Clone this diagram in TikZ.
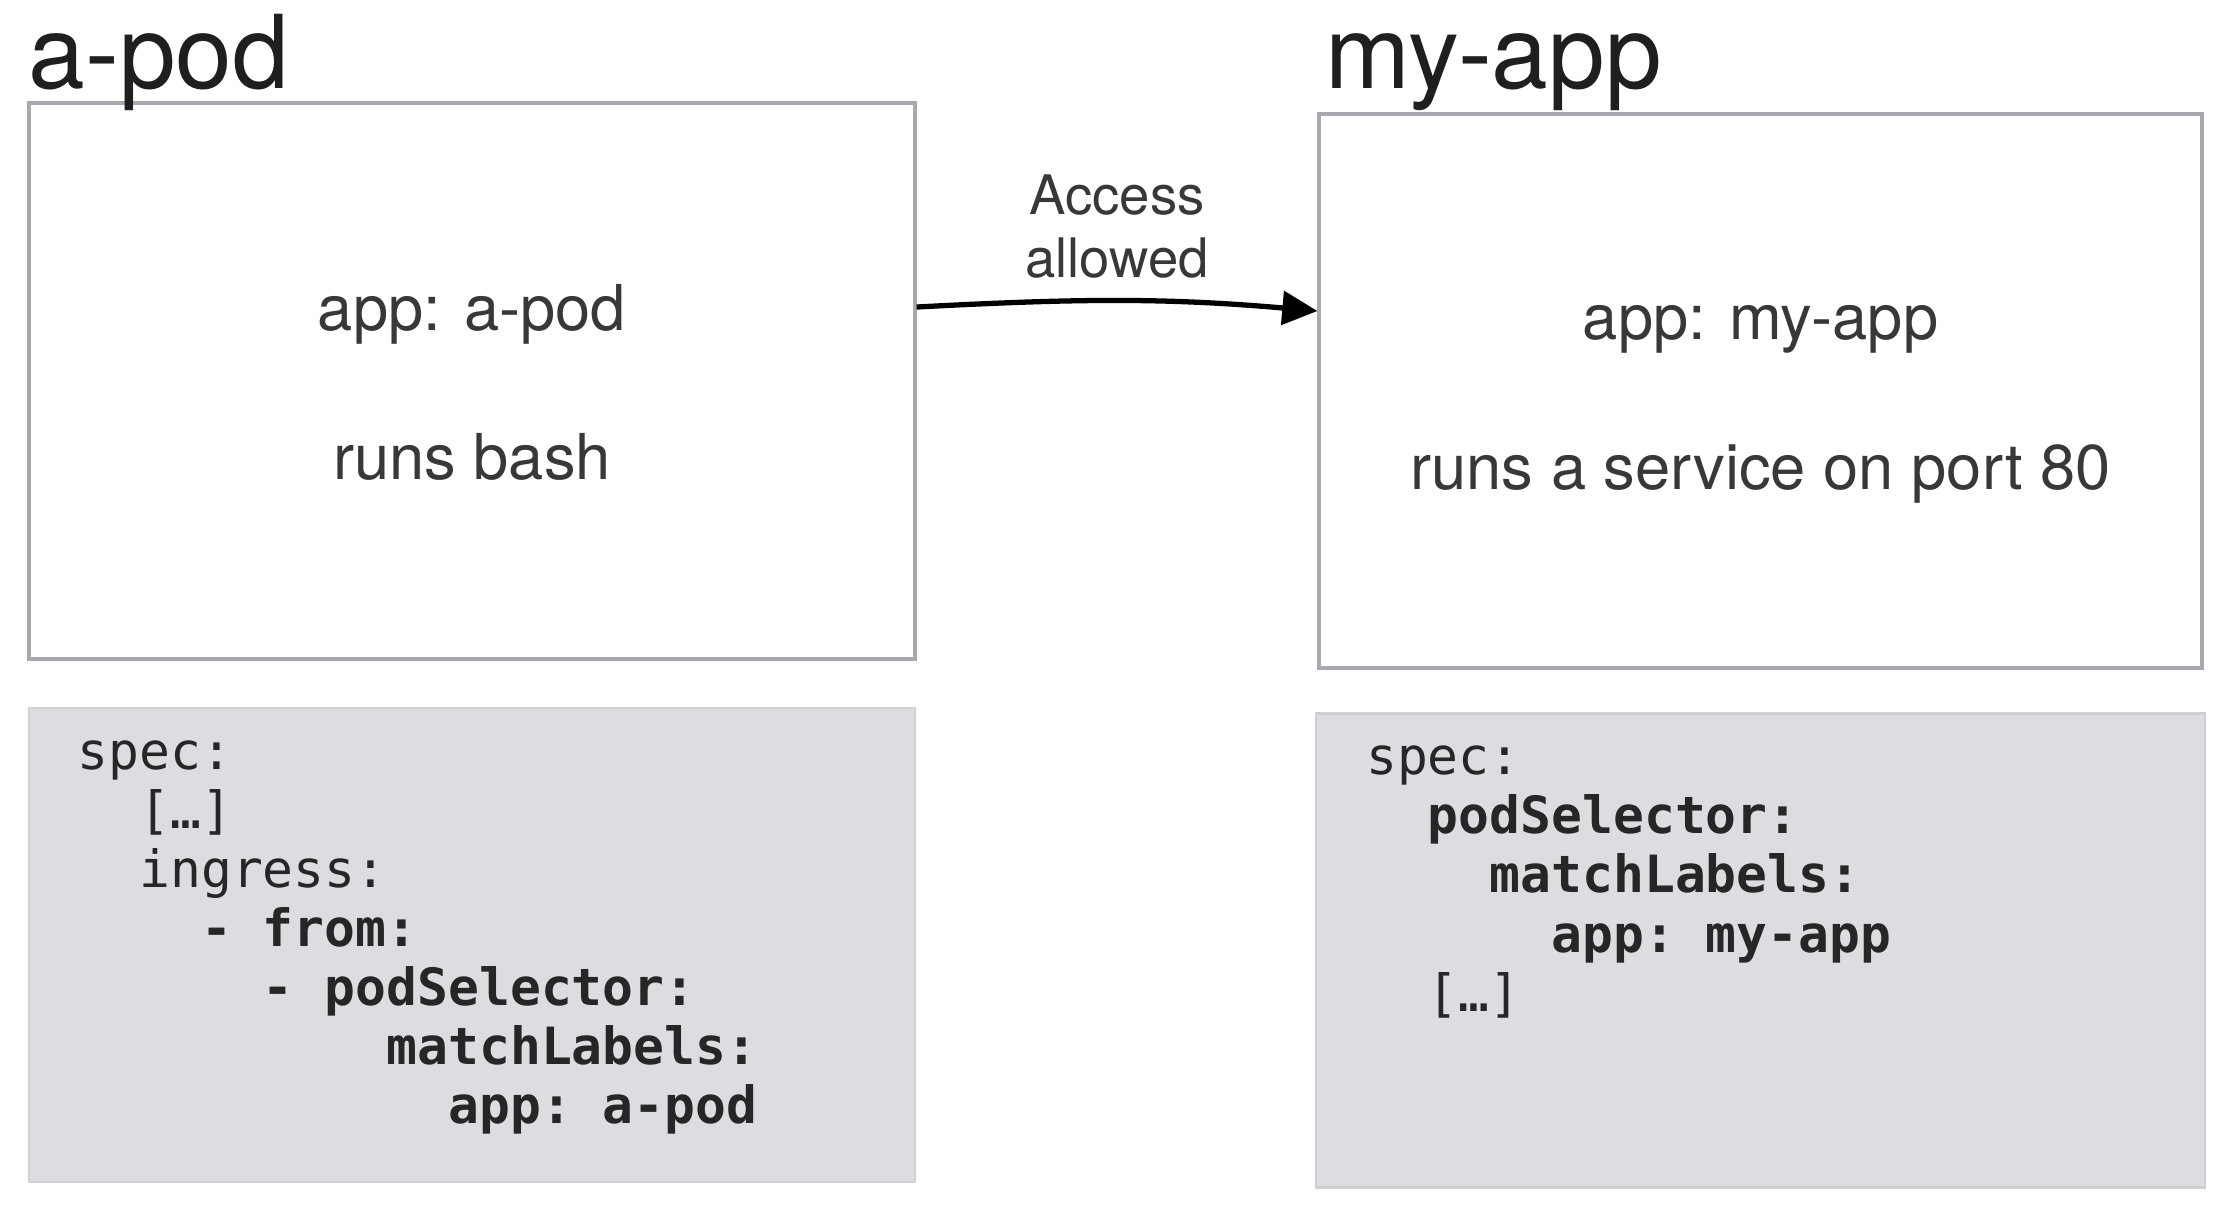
\documentclass[tikz,border=0pt]{standalone}
\usepackage{fontspec}
\setmainfont{TeX Gyre Heros}
\setmonofont{DejaVu Sans Mono}
\usetikzlibrary{arrows.meta,positioning}
\definecolor{BoxEdge}{RGB}{168,168,176}
\definecolor{YamlFill}{RGB}{221,221,225}
\definecolor{YamlEdge}{RGB}{208,208,212}
\definecolor{TextGray}{RGB}{56,56,56}
\newcommand{\codeind}[1]{\hspace*{#1\dimexpr0.602em\relax}}

\tikzset{
  podbox/.style={draw=BoxEdge, line width=0.9pt, minimum width=8.86cm, minimum height=5.56cm, inner sep=0},
  yamlbox/.style={draw=YamlEdge, fill=YamlFill, line width=0.6pt, minimum width=8.86cm, minimum height=4.74cm, inner sep=0},
  podtitle/.style={font=\fontsize{29}{34}\selectfont, text=black!88, anchor=base west, inner sep=0},
  podtext/.style={font=\fontsize{18}{22}\selectfont, text=TextGray, anchor=base, inner sep=0},
  yaml/.style={font=\fontsize{14.6}{16.8}\selectfont\ttfamily, align=left, anchor=north west, inner sep=0, text=black!85},
  arrowline/.style={-{Triangle[length=10pt,width=9.5pt]}, line width=1.5pt}
}

\begin{document}
\begin{tikzpicture}
  % Canvas
  \fill[white] (0,0) rectangle (22.38,-12.2);

  % Pods
  \node[podbox] (apodbox) at (4.72,-3.81) {};
  \node[podbox, minimum width=8.83cm, minimum height=5.54cm] (myappbox) at (17.605,-3.91) {};
  \node[podtitle] (apodtitle) at (0.28,-0.88) {a-pod};
  \node[podtitle] (myapptitle) at (13.25,-0.885) {my-app};

  \node[podtext] (apodlabel) at ([yshift=0.51cm]apodbox.center) {app: a-pod};
  \node[podtext] (apodrun) at ([yshift=-0.986cm]apodbox.center) {runs bash};
  \node[podtext] (myapplabel) at ([yshift=0.513cm]myappbox.center) {app: my-app};
  \node[podtext] (myapprun) at ([yshift=-0.986cm]myappbox.center) {runs a service on port 80};

  % Access
  \draw[arrowline] ([yshift=0.74cm]apodbox.east) to[out=3, in=175]
    node[midway, above=0.2cm, font=\fontsize{15.5}{17.9}\selectfont, text=TextGray, align=center, inner sep=0] (access) {Access\\allowed}
    ([yshift=0.80cm]myappbox.west);

  % Policies
  \node[yamlbox] (apodyaml) at (4.72,-9.45) {};
  \node[yamlbox, minimum width=8.89cm] (myappyaml) at (17.605,-9.505) {};

  \node[yaml] (apodcode) at ([xshift=0.49cm, yshift=-0.2cm]apodyaml.north west) {%
    \strut spec:\\
    \codeind{2}[…]\\
    \codeind{2}ingress:\\
    \codeind{4}\textbf{- from:}\\
    \codeind{6}\textbf{- podSelector:}\\
    \codeind{10}\textbf{matchLabels:}\\
    \codeind{12}\textbf{app: a-pod}};
  \node[yaml] (myappcode) at ([xshift=0.505cm, yshift=-0.204cm]myappyaml.north west) {%
    \strut spec:\\
    \codeind{2}\textbf{podSelector:}\\
    \codeind{4}\textbf{matchLabels:}\\
    \codeind{6}\textbf{app: my-app}\\
    \codeind{2}[…]};
\end{tikzpicture}
\end{document}
